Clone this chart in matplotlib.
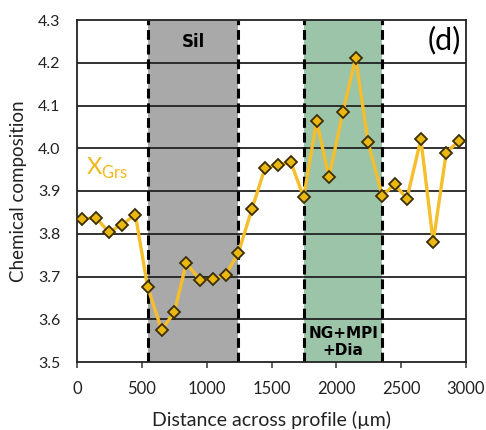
import matplotlib
matplotlib.use("Agg")
import matplotlib.pyplot as plt

# Grossular content along the profile
distance_um = [41, 146, 244, 347, 450, 545, 653, 750, 843, 951, 1049, 1146, 1244, 1349,
               1449, 1547, 1650, 1748, 1848, 1943, 2051, 2149, 2244, 2354, 2449, 2544,
               2652, 2747, 2848, 2945]
x_grs = [3.834, 3.838, 3.804, 3.821, 3.845, 3.675, 3.575, 3.616, 3.731, 3.691, 3.693, 3.704,
         3.755, 3.858, 3.953, 3.961, 3.967, 3.885, 4.064, 3.932, 4.085, 4.212, 4.015, 3.889,
         3.916, 3.882, 4.021, 3.781, 3.990, 4.017]

# Zones along the profile
sil_zone = (550, 1240)
ng_zone = (1750, 2355)

x_ticks = [0, 500, 1000, 1500, 2000, 2500, 3000]
y_ticks = [3.5, 3.6, 3.7, 3.8, 3.9, 4.0, 4.1, 4.2, 4.3]

plt.rcParams['font.family'] = ['Lato', 'DejaVu Sans']

fig = plt.figure(figsize=(4.86, 4.30), dpi=100)
ax = fig.add_axes([77 / 486, 1 - 362 / 430, (466 - 77) / 486, (362 - 20) / 430])

ax.set_xlim(0, 3000)
ax.set_ylim(3.5, 4.3)

ax.axvspan(*sil_zone, color='#a9a9a9', zorder=0, lw=0)
ax.axvspan(*ng_zone, color='#9cc4a8', zorder=0, lw=0)
for xv in (*sil_zone, *ng_zone):
    ax.axvline(xv, color='black', lw=2.2, ls=(0, (3.2, 1.6)), zorder=2)

for yv in y_ticks[1:-1]:
    ax.axhline(yv, color='#222222', lw=1.3, zorder=1)

ax.plot(distance_um, x_grs, color='#f5be2a', lw=2.4, zorder=3,
        marker='D', markersize=6.5, markerfacecolor='#eab810',
        markeredgecolor='#3b2e05', markeredgewidth=1.3)

ax.set_xticks(x_ticks)
ax.set_yticks(y_ticks)
ax.set_yticklabels([f"{v:.1f}" for v in y_ticks])
ax.tick_params(axis='x', direction='out', length=4, width=1.2, labelsize=12, pad=10,
               color='#444444', labelcolor='#222222')
ax.tick_params(axis='y', length=0, labelsize=11.5, pad=12, labelcolor='#222222')
for s in ax.spines.values():
    s.set_linewidth(1.3)
    s.set_color('#222222')

ax.set_xlabel('Distance across profile (µm)', fontsize=14, labelpad=10, color='#222222')
ax.set_ylabel('Chemical composition', fontsize=13.5, labelpad=8, color='#222222')

ax.text(895, 4.249, 'Sil', ha='center', va='center', fontsize=12,
        fontweight='bold', family='DejaVu Sans', zorder=4)
ax.text(2052, 3.547, 'NG+MPI\n+Dia', ha='center', va='center', fontsize=11,
        fontweight='bold', family='DejaVu Sans', linespacing=1.1, zorder=4)
ax.text(2960, 4.252, '(d)', ha='right', va='center', fontsize=22, zorder=4)
ax.text(70, 3.937, r'X$_{\mathregular{Grs}}$', ha='left', va='baseline', fontsize=17,
        color='#f0b81c', zorder=4)

fig.savefig('out.png', dpi=100)
